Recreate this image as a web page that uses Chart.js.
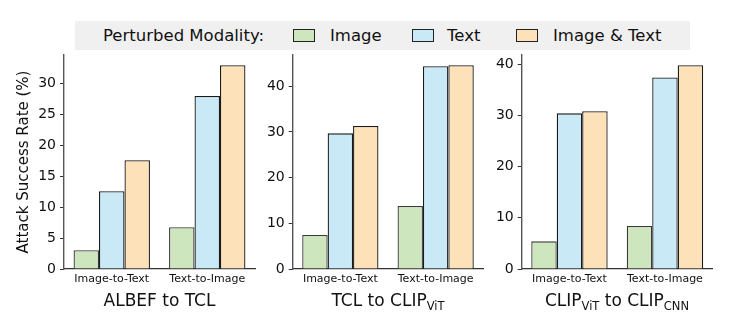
<!DOCTYPE html>
<html>
<head>
<meta charset="utf-8">
<script src="https://cdn.jsdelivr.net/npm/chart.js@4.4.0/dist/chart.umd.min.js"></script>
<style>
  html, body { margin:0; padding:0; background:#fff; }
  body { width:744px; height:328px; position:relative; overflow:hidden; font-family:"DejaVu Sans", sans-serif; color:#111; }
  canvas.c { position:absolute; left:0; top:0; }
  .legend { position:absolute; left:75px; top:21px; width:615px; height:29px; background:#f0f0f0; }
  .lg { position:absolute; top:0; line-height:29px; font-size:16.5px; white-space:nowrap; }
  .sw { position:absolute; top:8px; width:22px; height:13px; border:1.2px solid #222; box-sizing:border-box; }
  .ttl { position:absolute; top:290px; width:240px; text-align:center; font-size:17px; line-height:20px; white-space:nowrap; }
  .ttl span { font-size:11.5px; position:relative; top:4px; }
</style>
</head>
<body>
<canvas id="c1" class="c" width="744" height="328"></canvas>
<canvas id="c2" class="c" width="744" height="328"></canvas>
<canvas id="c3" class="c" width="744" height="328"></canvas>

<div class="legend" id="legend"></div>
<div class="ttl" style="left:39.5px">ALBEF to TCL</div>
<div class="ttl" style="left:268px">TCL to CLIP<span>ViT</span></div>
<div class="ttl" style="left:497px">CLIP<span>ViT</span> to CLIP<span>CNN</span></div>

<script>
// ---- data ----
const categories = ["Image-to-Text", "Text-to-Image"];
const seriesNames = ["Image", "Text", "Image & Text"];
const legendTitle = "Perturbed Modality:";

const albefImage = [3.05, 6.75];
const albefText = [12.6, 28.0];
const albefBoth = [17.6, 33.0];

const tclImage = [7.45, 13.8];
const tclText = [29.7, 44.4];
const tclBoth = [31.3, 44.6];

const clipImage = [5.4, 8.4];
const clipText = [30.4, 37.4];
const clipBoth = [30.8, 39.8];

const yTicks1 = [0, 5, 10, 15, 20, 25, 30];
const yTicks2 = [0, 10, 20, 30, 40];
const yTicks3 = [0, 10, 20, 30, 40];
const yLabel = "Attack Success Rate (%)";

// ---- styles ----
const fills = ["#cde6bd", "#c8e9f5", "#fde1b9"];
const edges = ["#3a3a3a", "#1a1a1a", "#1a1a1a"];
const FONT = "DejaVu Sans";
const W_Y = 56, H_X = 20;

function makeChart(id, vals, ticks, yMax, left, right, showTitle) {
  const datasets = vals.map((v, i) => ({
    label: seriesNames[i],
    data: v,
    backgroundColor: fills[i],
    borderColor: edges[i],
    borderWidth: 1.3,
    borderSkipped: 'start',
    categoryPercentage: 0.8,
    barPercentage: 1.0
  }));
  return new Chart(document.getElementById(id), {
    type: 'bar',
    data: { labels: categories, datasets },
    options: {
      responsive: false,
      animation: false,
      events: [],
      layout: { padding: { left: left - W_Y, right: 744 - right, top: 55, bottom: 328 - 269 - H_X } },
      plugins: { legend: { display: false }, tooltip: { enabled: false } },
      scales: {
        x: {
          offset: true,
          grid: { display: false, drawOnChartArea: false, tickLength: 0 },
          border: { display: true, color: '#333', width: 1.3 },
          ticks: { font: { family: FONT, size: 11 }, color: '#111', padding: 4, maxRotation: 0 },
          afterFit: s => { s.height = H_X; }
        },
        y: {
          min: 0, max: yMax,
          grid: { drawOnChartArea: false, tickLength: 4, color: '#333', tickWidth: 1 },
          border: { display: true, color: '#555', width: 1.4 },
          afterBuildTicks: s => { s.ticks = ticks.map(v => ({ value: v })); },
          ticks: { font: { family: FONT, size: 14 }, color: '#111', padding: 4 },
          title: { display: showTitle, text: yLabel, font: { family: FONT, size: 15 }, color: '#111', padding: { top: 7, bottom: 0 } },
          afterFit: s => { s.width = W_Y; }
        }
      }
    }
  });
}

makeChart('c1', [albefImage, albefText, albefBoth], yTicks1, 34.65, 64, 255, true);
makeChart('c2', [tclImage, tclText, tclBoth], yTicks2, 46.85, 292.7, 483.3, false);
makeChart('c3', [clipImage, clipText, clipBoth], yTicks3, 41.8, 521.7, 712.7, false);

// ---- legend (HTML) ----
const lg = document.getElementById('legend');
const pos = [{t:28}, {s:218, t:255}, {s:337, t:372}, {s:441, t:478}];
let h = `<div class="lg" style="left:${pos[0].t}px">${legendTitle}</div>`;
seriesNames.forEach((n, i) => {
  const p = pos[i + 1];
  h += `<div class="sw" style="left:${p.s}px;background:${fills[i]}"></div>`;
  h += `<div class="lg" style="left:${p.t}px">${n.replace('&','&amp;')}</div>`;
});
lg.innerHTML = h;
</script>
</body>
</html>
